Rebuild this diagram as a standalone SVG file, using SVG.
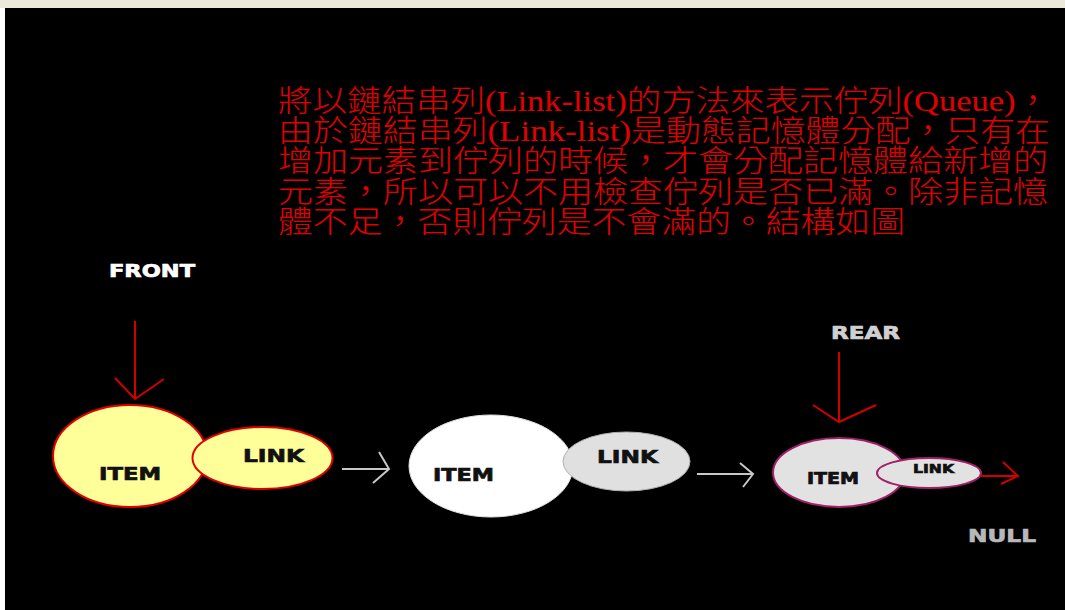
<svg xmlns="http://www.w3.org/2000/svg" width="1065" height="610" viewBox="0 0 1065 610">
<style>
.para{font-family:"Liberation Serif","Noto Sans CJK TC",serif;font-size:30px;font-weight:300;fill:#e00000}
.lbl{font-family:"DejaVu Sans","Liberation Sans",sans-serif;font-weight:bold;fill:#111;stroke:#111;stroke-width:0.7}
.cap{font-family:"DejaVu Sans","Liberation Sans",sans-serif;font-weight:bold;font-size:18px;stroke-width:0.7}
.red{stroke:#d00000;stroke-width:2;fill:none}
.grey{stroke:#c8c8c8;stroke-width:2;fill:none}
</style>
<rect x="0" y="0" width="1065" height="610" fill="#ffffff"/>
<rect x="0" y="0" width="1065" height="8" fill="#ece9d8"/>
<rect x="5" y="8" width="1060" height="602" fill="#000000"/>
<g id="description">
<text class="para" x="278" y="111" textLength="772" lengthAdjust="spacingAndGlyphs">將以鏈結串列(Link-list)的方法來表示佇列(Queue)，</text>
<text class="para" x="278" y="141" textLength="772" lengthAdjust="spacingAndGlyphs">由於鏈結串列(Link-list)是動態記憶體分配，只有在</text>
<text class="para" x="278" y="171" textLength="770" lengthAdjust="spacingAndGlyphs">增加元素到佇列的時候，才會分配記憶體給新增的</text>
<text class="para" x="278" y="202" textLength="770" lengthAdjust="spacingAndGlyphs">元素，所以可以不用檢查佇列是否已滿。除非記憶</text>
<text class="para" x="278" y="232" textLength="627" lengthAdjust="spacingAndGlyphs">體不足，否則佇列是不會滿的。結構如圖</text>
</g>
<g id="front">
<text class="cap" x="109" y="277" fill="#ffffff" stroke="#ffffff" textLength="86" lengthAdjust="spacingAndGlyphs">FRONT</text>
</g>
<g id="rear">
<text class="cap" x="831" y="339" fill="#d0d0d0" stroke="#d0d0d0" textLength="69" lengthAdjust="spacingAndGlyphs">REAR</text>
</g>
<g id="null">
<text class="cap" x="968" y="542" fill="#b8b8b8" stroke="#b8b8b8" textLength="68" lengthAdjust="spacingAndGlyphs">NULL</text>
</g>
<g id="node1">
<ellipse cx="130" cy="456" rx="77" ry="51" fill="#ffff99" stroke="#e00000" stroke-width="2"/>
<ellipse cx="262.5" cy="458" rx="70" ry="31" fill="#ffff99" stroke="#e00000" stroke-width="2"/>
<text class="lbl" x="99" y="480" font-size="18" textLength="62" lengthAdjust="spacingAndGlyphs">ITEM</text>
<text class="lbl" x="243" y="462" font-size="18" textLength="61" lengthAdjust="spacingAndGlyphs">LINK</text>
</g>
<g id="node2">
<ellipse cx="491" cy="466" rx="82" ry="51" fill="#ffffff" stroke="#e0e0e0" stroke-width="1"/>
<ellipse cx="626.5" cy="461.5" rx="63.5" ry="29.5" fill="#e0e0e0" stroke="#b0b0b0" stroke-width="1"/>
<text class="lbl" x="433" y="481" font-size="18" textLength="61" lengthAdjust="spacingAndGlyphs">ITEM</text>
<text class="lbl" x="597" y="463" font-size="18" textLength="61" lengthAdjust="spacingAndGlyphs">LINK</text>
</g>
<g id="node3">
<ellipse cx="839" cy="472.5" rx="66" ry="34.5" fill="#e2e2e2" stroke="#a0206a" stroke-width="2"/>
<ellipse cx="929" cy="473" rx="52" ry="15" fill="#e2e2e2" stroke="#a0206a" stroke-width="2"/>
<text class="lbl" x="807" y="484" font-size="15" textLength="52" lengthAdjust="spacingAndGlyphs">ITEM</text>
<text class="lbl" x="913" y="473" font-size="13" textLength="41" lengthAdjust="spacingAndGlyphs">LINK</text>
</g>
<g id="connectors">
<path class="red" d="M135,321 V399 M115,378 L135,399 L164,379"/>
<path class="red" d="M839,352 V422 M813,405 L839,422 L876,405"/>
<path class="red" d="M981,476 H1018 M1003,462 L1018,476 L1001,484"/>
<path class="grey" d="M342,469 H389 M379,452 L389,469 L373,483"/>
<path class="grey" d="M697,474 H753 M740,463 L753,474 L743,487"/>
</g>
</svg>
